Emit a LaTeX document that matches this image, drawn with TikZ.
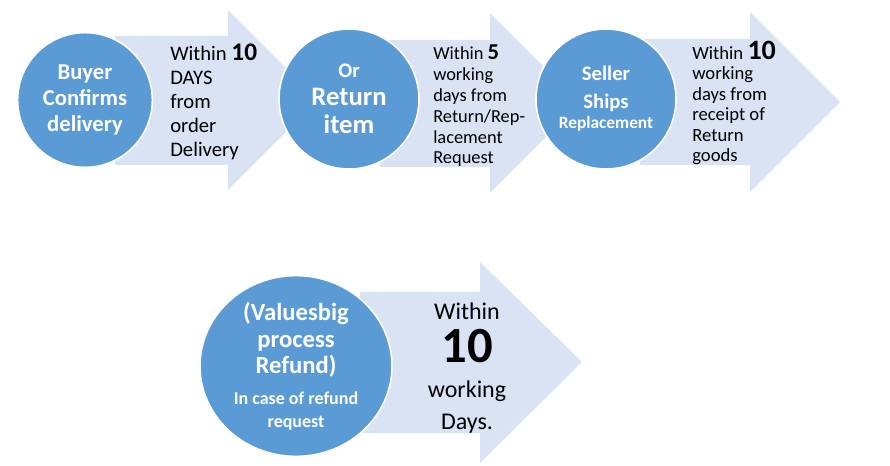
\documentclass[tikz,border=0pt]{standalone}
\usepackage{fontspec}
\setmainfont{Carlito}
\usetikzlibrary{shapes.geometric}
\definecolor{stepblue}{HTML}{5B9BD5}
\definecolor{steplight}{HTML}{DAE3F3}

\begin{document}
\begin{tikzpicture}[
x=0.75pt,y=-0.75pt,
stepcircle/.style={circle,fill=stepblue,draw=white,line width=1.2pt,text=white,align=center,inner sep=0pt},
stepellipse/.style={ellipse,fill=stepblue,draw=white,line width=1.2pt,text=white,align=center,inner sep=0pt},
timetext/.style={align=left,inner sep=0pt,anchor=west,text=black},
bigarrow/.style={fill=steplight} ]

\useasboundingbox (0,0) rectangle (890,466);

\fill[bigarrow] (115,36) -- (228,36) -- (228,10) -- (318,100) -- (228,190) -- (228,165) -- (115,165) -- cycle;

\fill[bigarrow] (380,40) -- (490,40) -- (490,13) -- (580,103) -- (490,193) -- (490,167) -- (380,167) -- cycle;

\fill[bigarrow] (640,39) -- (750,39) -- (750,12) -- (840,102) -- (750,192) -- (750,165) -- (640,165) -- cycle;

\fill[bigarrow] (360,292) -- (480,292) -- (480,262) -- (582,362) -- (480,463) -- (480,433) -- (360,433) -- cycle;

\node[stepcircle,minimum size=101pt,font=\bfseries\fontsize{17}{19.5}\selectfont] (buyer) at (85,100) {Buyer\\Confirms\\delivery};

\node[stepcircle,minimum size=105pt,font=\bfseries\fontsize{20}{21}\selectfont] (return) at (349,99) {\fontsize{15.5}{21}\selectfont Or\\Return\\item};

\node[stepcircle,minimum size=105pt,font=\bfseries\fontsize{15.5}{21}\selectfont] (seller) at (606,99) {Seller\\Ships\\[-6pt]\fontsize{13}{15}\selectfont Replacement};

\node[stepellipse,minimum width=144pt,minimum height=129pt,font=\bfseries\fontsize{18.5}{20}\selectfont] (refund) at (296,366) {(Valuesbig\\process\\Refund)\\[3pt]\fontsize{13.5}{15}\selectfont In case of refund\\[-3pt]\fontsize{13.5}{15}\selectfont request};

\node[timetext,font=\fontsize{15.5}{18}\selectfont] (days1) at (170,102) {Within \textbf{\fontsize{19}{18}\selectfont 10}\\DAYS\\from\\order\\Delivery};

\node[timetext,font=\fontsize{13.8}{15.4}\selectfont] (days2) at (433,106) {Within \textbf{\fontsize{17}{15.4}\selectfont 5}\\working\\[0.6pt]days from\\[0.6pt]Return/Rep-\\lacement\\Request};

\node[timetext,font=\fontsize{14}{15.3}\selectfont] (days3) at (692,103) {Within \textbf{\fontsize{21}{15.3}\selectfont 10}\\working\\days from\\receipt of\\Return\\goods};

\node[timetext,align=center,anchor=center,font=\fontsize{18}{22.5}\selectfont] (days4) at (467,368) {Within\\[6pt]\textbf{\fontsize{38}{30}\selectfont 10}\\[4pt]working\\[1.5pt]Days.};

\end{tikzpicture}
\end{document}
